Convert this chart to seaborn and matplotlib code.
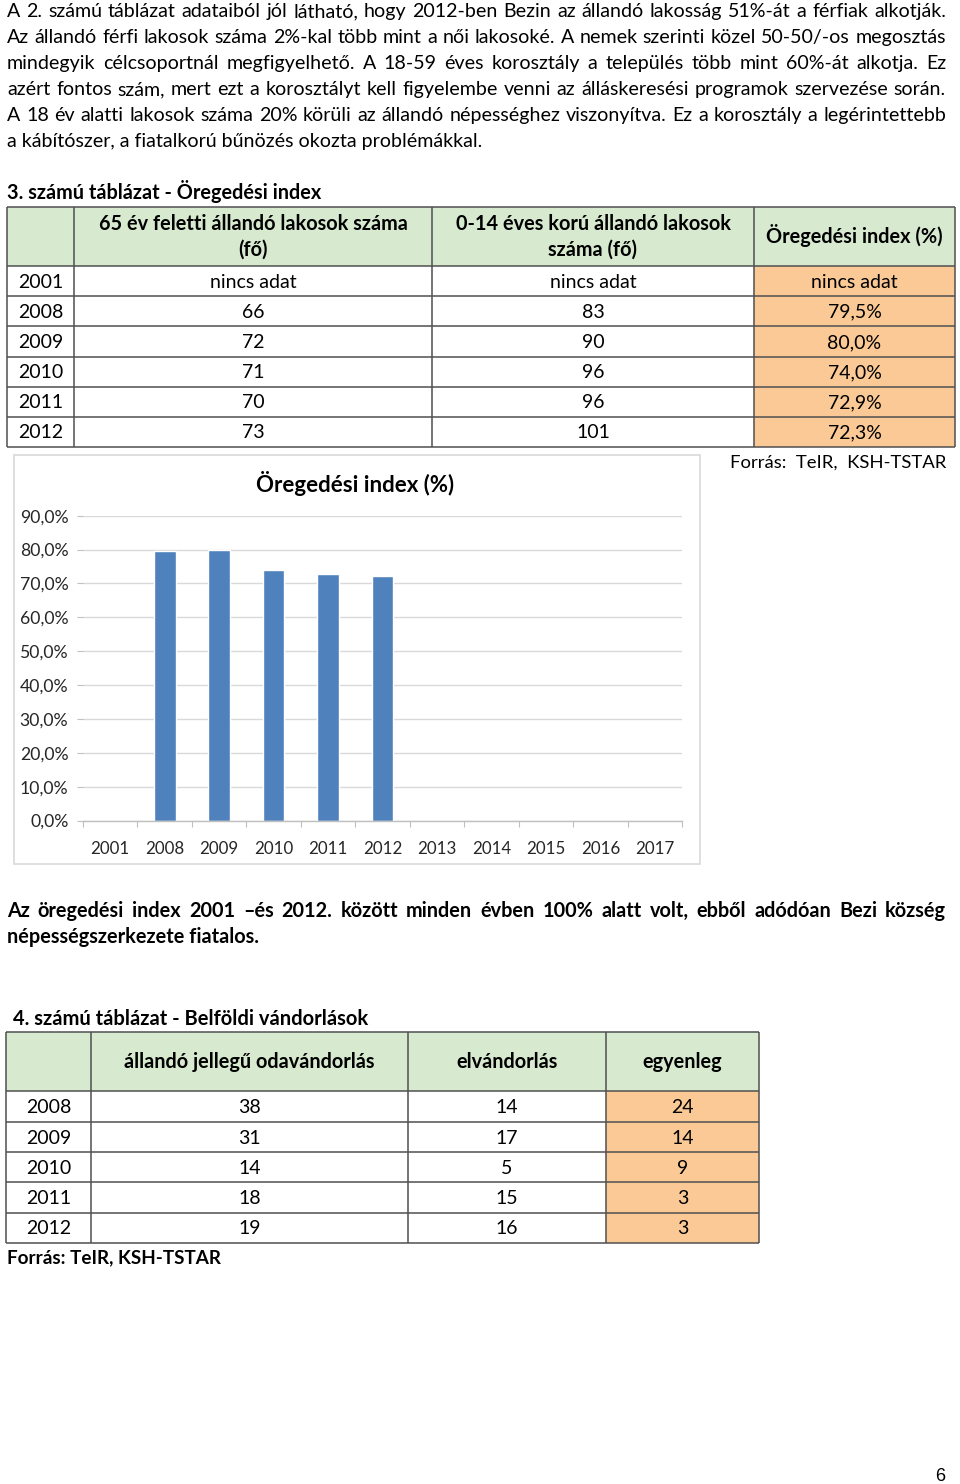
import matplotlib
matplotlib.use("Agg")
import matplotlib.pyplot as plt
import pandas as pd
import seaborn as sns
from matplotlib.patches import Rectangle
from matplotlib.ticker import FixedLocator, FuncFormatter

# szöveg
body_lines = [
    "A 2. számú táblázat adataiból jól látható, hogy 2012-ben Bezin az állandó lakosság 51%-át a férfiak alkotják.",
    "Az állandó férfi lakosok száma 2%-kal több mint a női lakosoké. A nemek szerinti közel 50-50/-os megosztás",
    "mindegyik célcsoportnál megfigyelhető. A 18-59 éves korosztály a település több mint 60%-át alkotja. Ez",
    "azért fontos szám, mert ezt a korosztályt kell figyelembe venni az álláskeresési programok szervezése során.",
    "A 18 év alatti lakosok száma 20% körüli az állandó népességhez viszonyítva. Ez a korosztály a legérintettebb",
    "a kábítószer, a fiatalkorú bűnözés okozta problémákkal.",
]
note_lines = [
    "Az öregedési index 2001 –és 2012. között minden évben 100% alatt volt, ebből adódóan Bezi község",
    "népességszerkezete fiatalos.",
]

# 3. táblázat
t3_title = "3. számú táblázat - Öregedési index"
t3_header = ["", "65 év feletti állandó lakosok száma\n(fő)",
             "0-14 éves korú állandó lakosok\nszáma (fő)", "Öregedési index (%)"]
t3_years = ["2001", "2008", "2009", "2010", "2011", "2012"]
t3_over65 = [None, 66, 72, 71, 70, 73]
t3_under14 = [None, 83, 90, 96, 96, 101]
t3_index = [None, 79.5, 80.0, 74.0, 72.9, 72.3]
source_1 = "Forrás:  TeIR,  KSH-TSTAR"

# diagram
chart_title = "Öregedési index (%)"
chart_years = ["2001", "2008", "2009", "2010", "2011", "2012",
               "2013", "2014", "2015", "2016", "2017"]
y_ticks = [0, 10, 20, 30, 40, 50, 60, 70, 80, 90]

# 4. táblázat
t4_title = "4. számú táblázat - Belföldi vándorlások"
t4_header = ["", "állandó jellegű odavándorlás", "elvándorlás", "egyenleg"]
t4_years = ["2008", "2009", "2010", "2011", "2012"]
t4_in = [38, 31, 14, 18, 19]
t4_out = [14, 17, 5, 15, 16]
t4_balance = [24, 14, 9, 3, 3]
source_2 = "Forrás: TeIR, KSH-TSTAR"
page_no = "6"

GREEN = "#D7E9CF"
ORANGE = "#FAC995"
LINE = "#505050"
BLUE = "#4F81BD"

sns.set_theme(style="white")
plt.rcParams["font.family"] = ["Lato", "DejaVu Sans"]
plt.rcParams["text.color"] = "black"

fig = plt.figure(figsize=(9.6, 14.84), dpi=100)
page = fig.add_axes([0, 0, 1, 1])
page.set_xlim(0, 960)
page.set_ylim(1484, 0)
page.axis("off")
renderer = fig.canvas.get_renderer()


def measure(s, size, weight="normal"):
    t = page.text(0, 0, s, fontsize=size, fontweight=weight)
    w = t.get_window_extent(renderer=renderer).width
    t.remove()
    return w


def fit(s, target, weight="normal"):
    return 20 * target / measure(s, 20, weight)


def put_line(s, y, size, weight="normal", x0=7, x1=946, justify=True):
    if not justify:
        page.text(x0, y, s, fontsize=size, fontweight=weight, ha="left", va="baseline")
        return
    words = s.split(" ")
    widths = [measure(w, size, weight) for w in words]
    gap = (x1 - x0 - sum(widths)) / (len(words) - 1)
    x = x0
    for w, wd in zip(words, widths):
        page.text(x, y, w, fontsize=size, fontweight=weight, ha="left", va="baseline")
        x += wd + gap


def fmt(v, pct=False):
    if v is None:
        return "nincs adat"
    if pct:
        return f"{v:.1f}%".replace(".", ",")
    return str(v)


def draw_table(col_x, row_y, header, rows, size, hsize):
    page.add_patch(Rectangle((col_x[0], row_y[0]), col_x[-1] - col_x[0], row_y[1] - row_y[0],
                             fc=GREEN, ec="none"))
    page.add_patch(Rectangle((col_x[-2], row_y[1]), col_x[-1] - col_x[-2], row_y[-1] - row_y[1],
                             fc=ORANGE, ec="none"))
    page.hlines(row_y, col_x[0], col_x[-1], color=LINE, lw=1.1)
    page.vlines(col_x, row_y[0], row_y[-1], color=LINE, lw=1.1)
    hc = (row_y[0] + row_y[1]) / 2
    for j, h in enumerate(header):
        cx = (col_x[j] + col_x[j + 1]) / 2
        parts = h.split("\n")
        for i, p in enumerate(parts):
            by = hc + 6.5 + (i - (len(parts) - 1) / 2) * 25.5
            page.text(cx, by, p, fontsize=hsize, fontweight="bold", ha="center", va="baseline")
    for r, row in enumerate(rows):
        cy = (row_y[r + 1] + row_y[r + 2]) / 2
        for j, val in enumerate(row):
            cx = (col_x[j] + col_x[j + 1]) / 2
            page.text(cx, cy + 6.5, val, fontsize=size, ha="center", va="baseline")


# bekezdés
body_size = min(fit(l, 939) for l in body_lines[:-1]) * 0.995
for i, line in enumerate(body_lines):
    put_line(line, 17 + i * 26, body_size, justify=i < len(body_lines) - 1)

table_size = fit("nincs adat", 87)
head_size = fit("Öregedési index (%)", 177, "bold")

# 3. táblázat
page.text(7, 199, t3_title, fontsize=fit(t3_title, 314, "bold"), fontweight="bold", va="baseline")
t3_rows = [[y, fmt(a), fmt(b), fmt(c, pct=True)]
           for y, a, b, c in zip(t3_years, t3_over65, t3_under14, t3_index)]
draw_table([7, 74, 432, 754, 955], [207, 266, 296, 326, 357, 387, 417, 447],
           t3_header, t3_rows, table_size, head_size)
page.text(946, 468, source_1, fontsize=fit(source_1, 216), ha="right", va="baseline")

# diagram keret és cím
page.add_patch(Rectangle((14, 455), 686, 409, fill=False, ec="#D9D9D9", lw=1.2))
page.text(355, 483, chart_title, fontsize=fit(chart_title, 198, "bold"), fontweight="bold",
          ha="center", va="center")

lookup = dict(zip(t3_years, t3_index))
df = pd.DataFrame({"ev": chart_years, "index": [lookup.get(y) for y in chart_years]})
df = df.dropna()

ax = fig.add_axes([83 / 960, 1 - 820.5 / 1484, 599 / 960, (820.5 - 515.7) / 1484])
sns.barplot(data=df, x="ev", y="index", order=chart_years, color=BLUE, saturation=1,
            width=0.4, errorbar=None, ax=ax)
ax.set_xlim(-0.5, len(chart_years) - 0.5)
ax.set_ylim(0, 90)
ax.set_xlabel("")
ax.set_ylabel("")
ax.set_yticks(y_ticks)
ax.yaxis.set_major_formatter(FuncFormatter(lambda v, p: f"{v:.1f}%".replace(".", ",")))
ax.grid(axis="y", color="#D9D9D9", lw=1)
ax.grid(axis="x", visible=False)
ax.set_axisbelow(True)
ax.patch.set_alpha(0)
for s in ["top", "right", "left"]:
    ax.spines[s].set_visible(False)
ax.spines["bottom"].set_color("#BFBFBF")
ax.spines["bottom"].set_linewidth(1)
ax.xaxis.set_minor_locator(FixedLocator([i - 0.5 for i in range(len(chart_years) + 1)]))
ax.tick_params(axis="y", which="major", left=True, length=4, width=0.8, color="#BFBFBF",
               pad=6.5, labelsize=fit("90,0%", 49))
ax.tick_params(axis="x", which="major", bottom=True, length=0, pad=15, labelsize=fit("2001", 39))
ax.tick_params(axis="x", which="minor", bottom=True, length=4.5, width=0.8, color="#BFBFBF",
               direction="out")

# megjegyzés
note_size = fit(note_lines[-1], 252, "bold")
put_line(note_lines[0], 917, note_size, weight="bold")
put_line(note_lines[1], 943, note_size, weight="bold", justify=False)

# 4. táblázat
page.text(13, 1025, t4_title, fontsize=fit(t4_title, 354, "bold"), fontweight="bold", va="baseline")
t4_rows = [[y, str(a), str(b), str(c)] for y, a, b, c in zip(t4_years, t4_in, t4_out, t4_balance)]
draw_table([6, 91, 408, 606, 759], [1032, 1091, 1122, 1152, 1182, 1213, 1243],
           t4_header, t4_rows, table_size, head_size)
page.text(7, 1263, source_2, fontsize=fit(source_2, 214, "bold"), fontweight="bold", va="baseline")

page.text(940, 1481, page_no, fontsize=13, family="Liberation Sans", ha="center", va="baseline")

fig.savefig("out.png", dpi=100, facecolor="white")
